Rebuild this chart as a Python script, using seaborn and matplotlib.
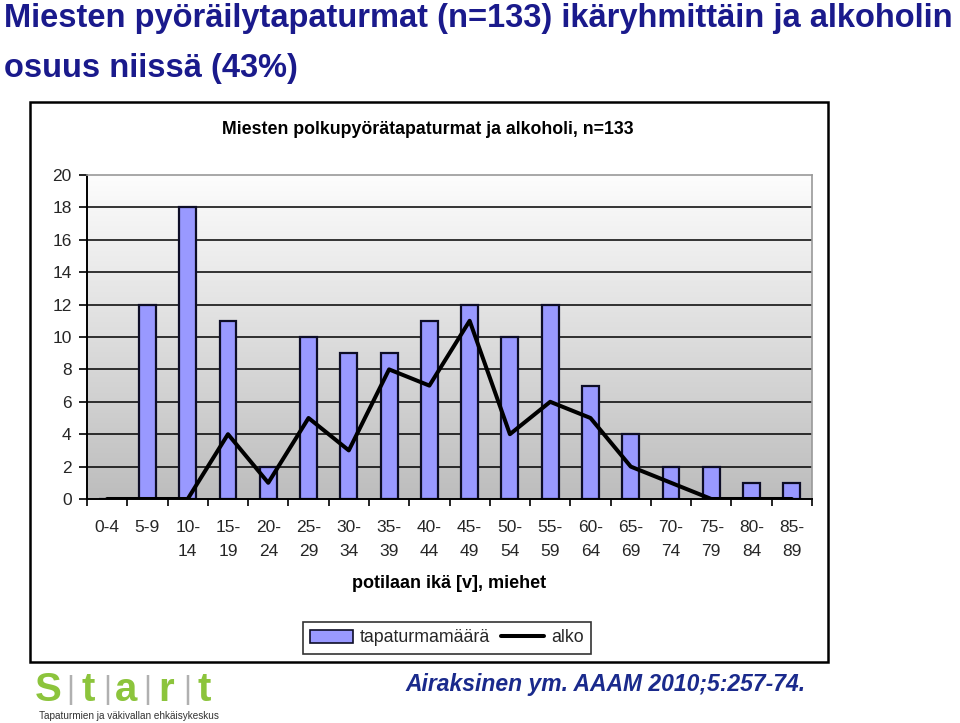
import numpy as np
import pandas as pd
import matplotlib
matplotlib.use("Agg")
import matplotlib.pyplot as plt
import seaborn as sns
from matplotlib.colors import LinearSegmentedColormap
from matplotlib.patches import Rectangle, Patch
from matplotlib.lines import Line2D

# ---- data ----
age_groups = ["0-4", "5-9", "10-14", "15-19", "20-24", "25-29", "30-34", "35-39",
              "40-44", "45-49", "50-54", "55-59", "60-64", "65-69", "70-74",
              "75-79", "80-84", "85-89"]
accidents = [0, 12, 18, 11, 2, 10, 9, 9, 11, 12, 10, 12, 7, 4, 2, 2, 1, 1]
alko = [0, 0, 0, 4, 1, 5, 3, 8, 7, 11, 4, 6, 5, 2, 1, 0, 0, 0]
y_ticks = [0, 2, 4, 6, 8, 10, 12, 14, 16, 18, 20]

title_line1 = "Miesten pyöräilytapaturmat (n=133) ikäryhmittäin ja alkoholin"
title_line2 = "osuus niissä (43%)"
chart_title = "Miesten polkupyörätapaturmat ja alkoholi, n=133"
x_label = "potilaan ikä [v], miehet"
legend_labels = ["tapaturmamäärä", "alko"]
citation = "Airaksinen ym. AAAM 2010;5:257-74."
logo_letters = ["S", "t", "a", "r", "t"]
logo_sub = "Tapaturmien ja väkivallan ehkäisykeskus"

sns.set_theme(style="white")
plt.rcParams['font.family'] = ['Liberation Sans', 'DejaVu Sans']

df = pd.DataFrame({"age": age_groups, "n": accidents, "alko": alko})

W, H = 960, 723
fig = plt.figure(figsize=(9.6, 7.23), dpi=100)
fig.patch.set_facecolor("white")

def fx(px):
    return px / W

def fy(py):
    return 1 - py / H

# chart frame
fig.patches.append(Rectangle((fx(30), fy(662)), fx(828) - fx(30), fy(102) - fy(662),
                             transform=fig.transFigure, fill=False, edgecolor="black",
                             linewidth=1.8, zorder=0))

ax = fig.add_axes([fx(87), fy(499), fx(812) - fx(87), fy(175) - fy(499)])

# gradient background
cmap = LinearSegmentedColormap.from_list("bg", ["#fdfdfd", "#bdbdbd"])
ax.imshow(np.linspace(0, 1, 256).reshape(-1, 1), cmap=cmap, aspect="auto",
          extent=[-0.5, len(age_groups) - 0.5, 0, 20], zorder=0)

for v in y_ticks[1:-1]:
    ax.axhline(v, color="black", linewidth=1.1, zorder=1)

sns.barplot(data=df, x="age", y="n", color="#9999ff", saturation=1, width=0.42,
            edgecolor="#0d0d26", linewidth=1.6, ax=ax, zorder=2)
sns.lineplot(x=np.arange(len(age_groups)), y=df["alko"], color="black",
             linewidth=2.9, ax=ax, zorder=3)

ax.set_xlim(-0.5, len(age_groups) - 0.5)
ax.set_ylim(0, 20)
ax.set_xlabel("")
ax.set_ylabel("")

# ticks
ax.set_yticks(y_ticks)
ax.set_yticklabels([str(v) for v in y_ticks], fontsize=12.5)
ax.set_xticks(np.arange(-0.5, len(age_groups)), minor=False)
ax.set_xticklabels([])
ax.set_xticks(np.arange(len(age_groups)), minor=True)
ax.set_xticklabels([a if len(a) <= 3 else a.replace("-", "-\n") for a in age_groups],
                   minor=True, fontsize=12.5, va="top", linespacing=1.8)
ax.tick_params(axis="x", which="major", direction="out", length=5, width=1.2,
               color="black", bottom=True)
ax.tick_params(axis="x", which="minor", length=0, pad=15)
ax.tick_params(axis="y", direction="out", length=6, width=1.2, color="black",
               left=True, pad=5)

for s in ["top", "right"]:
    ax.spines[s].set_color("#999999")
    ax.spines[s].set_linewidth(1.2)
for s in ["left", "bottom"]:
    ax.spines[s].set_color("black")
    ax.spines[s].set_linewidth(1.4)

# titles
navy = "#1a1a8c"
fig.text(fx(4), fy(19), title_line1, ha="left", va="center", fontsize=23.5,
         fontweight="bold", color=navy)
fig.text(fx(4), fy(69), title_line2, ha="left", va="center", fontsize=23.5,
         fontweight="bold", color=navy)
fig.text(fx(428), fy(130), chart_title, ha="center", va="center", fontsize=12.8,
         fontweight="bold", color="black")
fig.text(fx(449), fy(583), x_label, ha="center", va="center", fontsize=13,
         fontweight="bold", color="black")

handles = [Patch(facecolor="#9999ff", edgecolor="#0d0d26", linewidth=1.2),
           Line2D([0], [0], color="black", linewidth=2.9)]
leg = fig.legend(handles, legend_labels, loc="center", ncol=2,
                 bbox_to_anchor=(fx(447), fy(638)), fontsize=12.8, frameon=True,
                 fancybox=False, edgecolor="black", handlelength=2.4,
                 handleheight=0.75, columnspacing=0.6, handletextpad=0.4,
                 borderpad=0.4, borderaxespad=0)
leg.get_frame().set_linewidth(1.2)

# logo
green = "#8cc43c"
for ch, x in zip(logo_letters, [48, 88, 126, 166, 204]):
    fig.text(fx(x), fy(690), ch, ha="center", va="center", fontsize=29,
             fontweight="bold", color=green)
for x in [70, 107, 147, 187]:
    fig.text(fx(x), fy(690), "|", ha="center", va="center", fontsize=22,
             color="#b0b0b0", fontweight="light")
fig.text(fx(129), fy(716), logo_sub, ha="center", va="center", fontsize=7.2,
         color="#333333")

fig.text(fx(606), fy(685), citation, ha="center", va="center", fontsize=16.5,
         fontweight="bold", fontstyle="italic", color="#1a2a8c")

fig.savefig("out.png", dpi=100)
